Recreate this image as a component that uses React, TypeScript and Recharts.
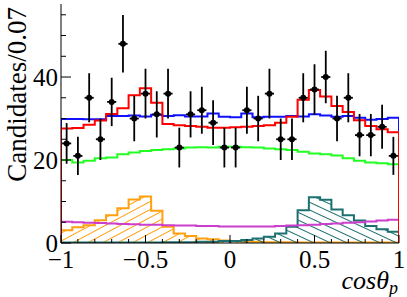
import React from 'react';
import { ComposedChart, Line, Area, Scatter, XAxis, YAxis, ErrorBar } from 'recharts';

const binCount = 30;
const binEdges = Array.from({ length: binCount + 1 }, (_, i) => -1 + (i * 2) / binCount);
const binCenters = binEdges.slice(0, binCount).map((e, i) => (e + binEdges[i + 1]) / 2);

const dataCounts = [24, 21, 35, 25, 34, 48, 30, 36, 31, 36, 23, 31, 32, 29, 23, 23, 32, 30, 36, 25, 25, 35, 37, 40, 30, 35, 26, 26, 28, 21];
const totalRed = [27.6, 27.7, 28.5, 29.5, 31.1, 32.5, 35.6, 37.3, 33.8, 28.7, 28.4, 28.2, 28.0, 27.8, 27.8, 27.9, 28.0, 28.2, 28.4, 29.0, 30.4, 34.5, 36.9, 35.3, 33.0, 31.6, 29.6, 28.2, 27.4, 26.7];
const flatBlue = [29.9, 29.9, 29.8, 29.8, 30.6, 30.6, 30.7, 30.5, 30.9, 30.6, 30.8, 30.5, 30.5, 31.2, 30.4, 30.3, 31.2, 30.3, 30.4, 30.4, 30.6, 30.5, 31.0, 30.7, 30.4, 30.6, 30.2, 29.7, 29.9, 30.2];
const bkgGreen = [20.0, 19.4, 19.8, 20.4, 20.6, 21.4, 21.8, 22.2, 22.4, 22.6, 22.8, 23.0, 23.1, 23.0, 23.2, 23.2, 23.1, 23.0, 22.8, 22.6, 22.4, 22.0, 21.6, 21.4, 21.1, 20.4, 19.8, 19.4, 19.2, 19.0];
const bkgMagenta = [5.1, 5.0, 4.9, 4.8, 4.7, 4.6, 4.5, 4.4, 4.4, 4.3, 4.2, 4.2, 4.1, 4.1, 4.0, 4.0, 4.0, 4.0, 4.0, 4.1, 4.2, 4.3, 4.4, 4.6, 4.7, 4.9, 5.0, 5.2, 5.4, 5.6];
const peakOrange = [3.1, 3.8, 4.3, 5.5, 6.7, 8.4, 10.5, 11.2, 7.8, 3.9, 2.3, 1.7, 1.1, 0.9, 0.6, 0.4, 0.3, 0.3, 0.2, 0.2, 0.2, 0.1, 0.1, 0.1, 0.1, 0.1, 0.1, 0.1, 0.1, 0.1];
const peakTeal = [0.1, 0.1, 0.1, 0.1, 0.1, 0.1, 0.1, 0.1, 0.1, 0.2, 0.2, 0.2, 0.3, 0.3, 0.5, 0.5, 0.7, 1.1, 1.5, 2.3, 3.9, 7.9, 11.0, 10.4, 8.1, 6.7, 5.4, 4.1, 3.3, 2.7];

const xTicks = [-1, -0.9, -0.8, -0.7, -0.6, -0.5, -0.4, -0.3, -0.2, -0.1, 0, 0.1, 0.2, 0.3, 0.4, 0.5, 0.6, 0.7, 0.8, 0.9, 1];
const xTickLabels: Record<string, string> = { '-1': '\u22121', '-0.5': '\u22120.5', '0': '0', '0.5': '0.5', '1': '1' };
const yTicks = [0, 5, 10, 15, 20, 25, 30, 35, 40, 45, 50, 55];
const yTickLabels: Record<string, string> = { '0': '0', '20': '20', '40': '40' };

const C_RED = '#ff0000';
const C_BLUE = '#1010ff';
const C_GREEN = '#22ff22';
const C_MAG = '#cc3fcc';
const C_ORANGE = '#ffa010';
const C_TEAL = '#1d7070';
const FONT = "'Liberation Serif', 'Times New Roman', 'DejaVu Serif', serif";

type Row = { x: number; red: number; blue: number; green: number; mag: number; orange: number; teal: number };
const zeroRow = (x: number): Row => ({ x, red: 0, blue: 0, green: 0, mag: 0, orange: 0, teal: 0 });
const rowAt = (x: number, i: number): Row => ({
  x,
  red: totalRed[i],
  blue: flatBlue[i],
  green: bkgGreen[i],
  mag: bkgMagenta[i],
  orange: peakOrange[i],
  teal: peakTeal[i],
});
const histRows: Row[] = [
  zeroRow(binEdges[0]),
  ...binEdges.slice(0, binCount).map((e, i) => rowAt(e, i)),
  rowAt(binEdges[binCount], binCount - 1),
  zeroRow(binEdges[binCount]),
];

const points = binCenters.map((c, i) => ({ x: c, y: dataCounts[i], ey: Math.sqrt(dataCounts[i]), ex: 0.027 }));

const keyOf = (v: number) => String(Math.round(v * 100) / 100);
const isMajorX = (v: number) => Math.abs(v * 2 - Math.round(v * 2)) < 1e-6;
const isMajorY = (v: number) => Math.round(v) % 20 === 0;

const BottomTick = (props: any) => {
  const { x, y, payload } = props;
  const v = payload.value as number;
  const major = isMajorX(v);
  const label = xTickLabels[keyOf(v)];
  return (
    <g>
      <line x1={x} x2={x} y1={y} y2={y - (major ? 8 : 4)} stroke="#000" strokeWidth={1} />
      {major && label !== undefined && (
        <text x={x} y={y + 25} textAnchor="middle" style={{ fontFamily: FONT }} fontSize={25} fill="#000">
          {label}
        </text>
      )}
    </g>
  );
};

const TopTick = (props: any) => {
  const { x, y, payload } = props;
  const major = isMajorX(payload.value);
  return <line x1={x} x2={x} y1={y} y2={y + (major ? 8 : 4)} stroke="#000" strokeWidth={1} />;
};

const LeftTick = (props: any) => {
  const { x, y, payload } = props;
  const v = payload.value as number;
  const major = isMajorY(v);
  const label = yTickLabels[keyOf(v)];
  return (
    <g>
      <line x1={x} x2={x + (major ? 10 : 5)} y1={y} y2={y} stroke="#000" strokeWidth={1} />
      {major && label !== undefined && (
        <text x={x - 3} y={y + 8.5} textAnchor="end" style={{ fontFamily: FONT }} fontSize={25} fill="#000">
          {label}
        </text>
      )}
    </g>
  );
};

const RightTick = (props: any) => {
  const { x, y, payload } = props;
  const major = isMajorY(payload.value);
  return <line x1={x} x2={x - (major ? 10 : 5)} y1={y} y2={y} stroke="#000" strokeWidth={1} />;
};

const Dot = (props: any) => <circle cx={props.cx} cy={props.cy} r={3} fill="#000" />;

export default function App() {
  return (
    <div style={{ position: 'absolute', left: 0, top: 0, width: 407, height: 297, background: '#fff' }}>
      <ComposedChart width={407} height={297} data={histRows} margin={{ top: 4, right: 8, bottom: 0, left: 0 }}>
        <defs>
          <pattern id="hatchOrange" patternUnits="userSpaceOnUse" width="10" height="7" patternTransform="rotate(-28)">
            <line x1="0" y1="3.5" x2="10" y2="3.5" stroke={C_ORANGE} strokeWidth="1" />
          </pattern>
          <pattern id="hatchTeal" patternUnits="userSpaceOnUse" width="10" height="7" patternTransform="rotate(25)">
            <line x1="0" y1="3.5" x2="10" y2="3.5" stroke={C_TEAL} strokeWidth="1" />
          </pattern>
        </defs>
        <XAxis
          dataKey="x"
          type="number"
          domain={[-1, 1]}
          ticks={xTicks}
          interval={0}
          tick={<BottomTick />}
          tickLine={false}
          tickSize={0}
          tickMargin={0}
          height={54}
          axisLine={{ stroke: '#000', strokeWidth: 1 }}
          allowDataOverflow
        />
        <XAxis
          xAxisId="top"
          orientation="top"
          dataKey="x"
          type="number"
          domain={[-1, 1]}
          ticks={xTicks}
          interval={0}
          tick={<TopTick />}
          tickLine={false}
          tickSize={0}
          tickMargin={0}
          height={0}
          axisLine={{ stroke: '#000', strokeWidth: 1 }}
          allowDataOverflow
        />
        <YAxis
          type="number"
          domain={[0, 57.6]}
          ticks={yTicks}
          interval={0}
          tick={<LeftTick />}
          tickLine={false}
          tickSize={0}
          tickMargin={0}
          width={61}
          axisLine={{ stroke: '#000', strokeWidth: 1 }}
          allowDataOverflow
        />
        <YAxis
          yAxisId="r"
          orientation="right"
          type="number"
          domain={[0, 57.6]}
          ticks={yTicks}
          interval={0}
          tick={<RightTick />}
          tickLine={false}
          tickSize={0}
          tickMargin={0}
          width={0}
          axisLine={{ stroke: '#000', strokeWidth: 1 }}
          allowDataOverflow
        />
        <Area type="stepAfter" dataKey="orange" stroke={C_ORANGE} strokeWidth={2} fill="url(#hatchOrange)" fillOpacity={1} isAnimationActive={false} dot={false} activeDot={false} />
        <Area type="stepAfter" dataKey="teal" stroke={C_TEAL} strokeWidth={2} fill="url(#hatchTeal)" fillOpacity={1} isAnimationActive={false} dot={false} activeDot={false} />
        <Line xAxisId="top" yAxisId="r" type="stepAfter" dataKey="mag" stroke={C_MAG} strokeWidth={2} dot={false} activeDot={false} isAnimationActive={false} />
        <Line type="stepAfter" dataKey="green" stroke={C_GREEN} strokeWidth={2} dot={false} activeDot={false} isAnimationActive={false} />
        <Line type="stepAfter" dataKey="blue" stroke={C_BLUE} strokeWidth={2} dot={false} activeDot={false} isAnimationActive={false} />
        <Line type="stepAfter" dataKey="red" stroke={C_RED} strokeWidth={2} dot={false} activeDot={false} isAnimationActive={false} />
        <Scatter data={points} dataKey="y" shape={<Dot />} isAnimationActive={false}>
          <ErrorBar dataKey="ey" direction="y" width={0} stroke="#000" strokeWidth={1.8} />
          <ErrorBar dataKey="ex" direction="x" width={0} stroke="#000" strokeWidth={1.8} />
        </Scatter>
      </ComposedChart>
      <svg width={407} height={297} style={{ position: 'absolute', left: 0, top: 0, pointerEvents: 'none' }}>
        <text transform="translate(26,7) rotate(-90)" textAnchor="end" style={{ fontFamily: FONT }} fontSize={27} fill="#000">
          Candidates/0.07
        </text>
        <text x={398} y={289} textAnchor="end" style={{ fontFamily: FONT, fontStyle: 'italic' }} fontSize={26} fill="#000">
          cos&#952;<tspan fontSize={18} dy={5}>p</tspan>
        </text>
      </svg>
    </div>
  );
}
